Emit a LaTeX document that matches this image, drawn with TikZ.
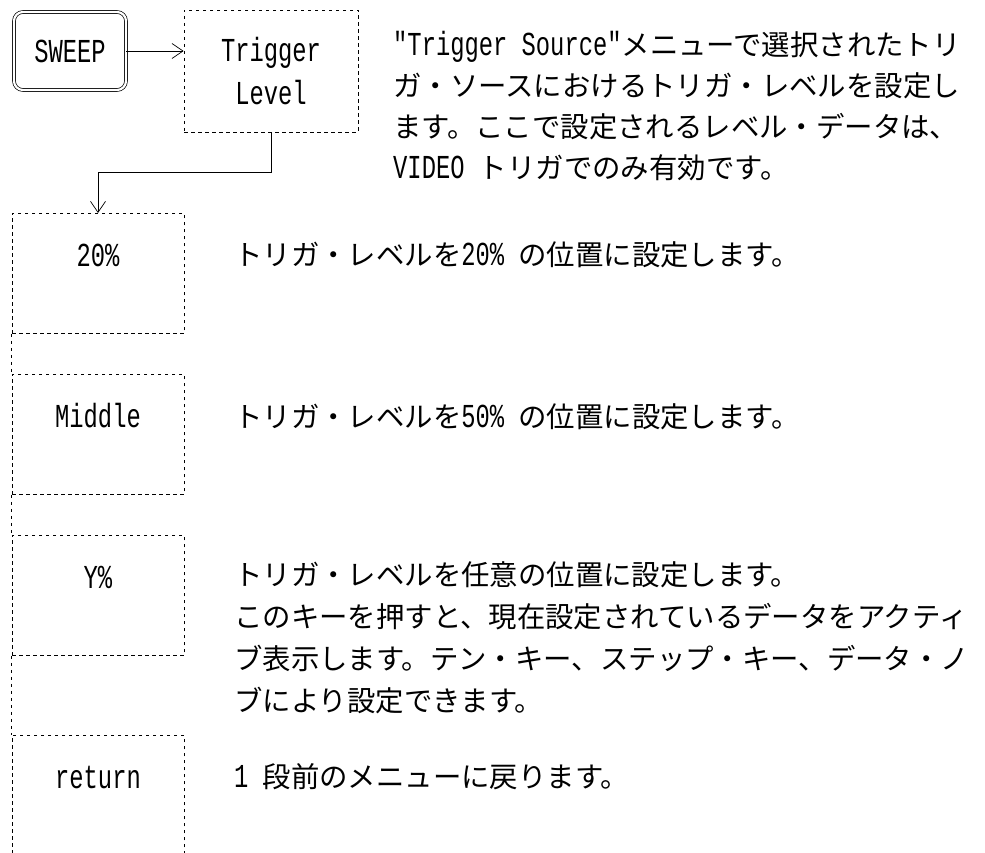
\documentclass[tikz,border=0pt]{standalone}
\usepackage{fontspec}
\usetikzlibrary{arrows.meta,positioning}
\newfontfamily\jpfont{Noto Sans CJK JP}
\newfontfamily\latfont[Scale=1.18,FakeStretch=0.71]{Liberation Mono}
\newcommand{\en}[1]{{\latfont #1}}

\begin{document}
\begin{tikzpicture}[x=1pt, y=-1pt,
    every node/.style={font=\fontsize{28.4}{41}\selectfont\jpfont},
    dashline/.style={line width=0.8pt, dash pattern=on 3.5pt off 3.5pt},
    menubox/.style={draw, dashline, inner sep=0pt, anchor=north,
        minimum width=172pt, text height=53pt, text depth=67pt,
        font=\fontsize{28.4}{41}\selectfont\latfont},
    desc/.style={anchor=north west, inner sep=0pt, align=left},
    link/.style={line width=0.7pt, -{Straight Barb[length=11pt,width=15pt]}}]
    \useasboundingbox (0,0) rectangle (985,853);

    % キー
    \node[draw, double, double distance=2.2pt, rounded corners=9pt, line width=0.7pt,
        minimum width=112pt, minimum height=78pt,
        font=\fontsize{28.4}{41}\selectfont\latfont] (sweep) at (70,51) {SWEEP};
    \node[draw, dashline, minimum width=174pt, minimum height=122pt, align=center,
        font=\fontsize{28.4}{43}\selectfont\latfont] (trglevel) at (271,71) {Trigger\\Level};
    \draw[link] (sweep.east) -- (sweep.east -| trglevel.west);

    % メニュー
    \node[menubox] (pct) at (98,213) {20\%};
    \node[menubox] (middle) at (98,374) {Middle};
    \node[menubox] (ypct) at (98,535) {Y\%};
    \node[menubox, text depth=90pt] (ret) at (98,735) {return};
    \draw[dashline] (pct.south west) -- (middle.north west);
    \draw[dashline] (middle.south west) -- (ypct.north west);
    \draw[dashline] (ypct.south west) -- (ret.north west);
    \draw[link] (trglevel.south) -- ++(0,40) -| (pct.north);

    % 説明
    \node[desc] (desclevel) at (393,31) {\en{"Trigger Source"}メニューで選択されたトリ\\ガ・ソースにおけるトリガ・レベルを設定し\\ます。ここで設定されるレベル・データは、\\\en{VIDEO }トリガでのみ有効です。};
    \node[desc, anchor=west] (descpct) at (234,255) {トリガ・レベルを\en{20\% }の位置に設定します。};
    \node[desc, anchor=west] (descmiddle) at (234,417) {トリガ・レベルを\en{50\% }の位置に設定します。};
    \node[desc, font=\fontsize{28.4}{42}\selectfont\jpfont] (descypct) at (234,561) {トリガ・レベルを任意の位置に設定します。\\このキーを押すと、現在設定されているデータをアクティ\\ブ表示します。テン・キー、ステップ・キー、データ・ノ\\ブにより設定できます。};
    \node[desc, anchor=west] (descret) at (234,777) {\en{1 }段前のメニューに戻ります。};
\end{tikzpicture}
\end{document}
